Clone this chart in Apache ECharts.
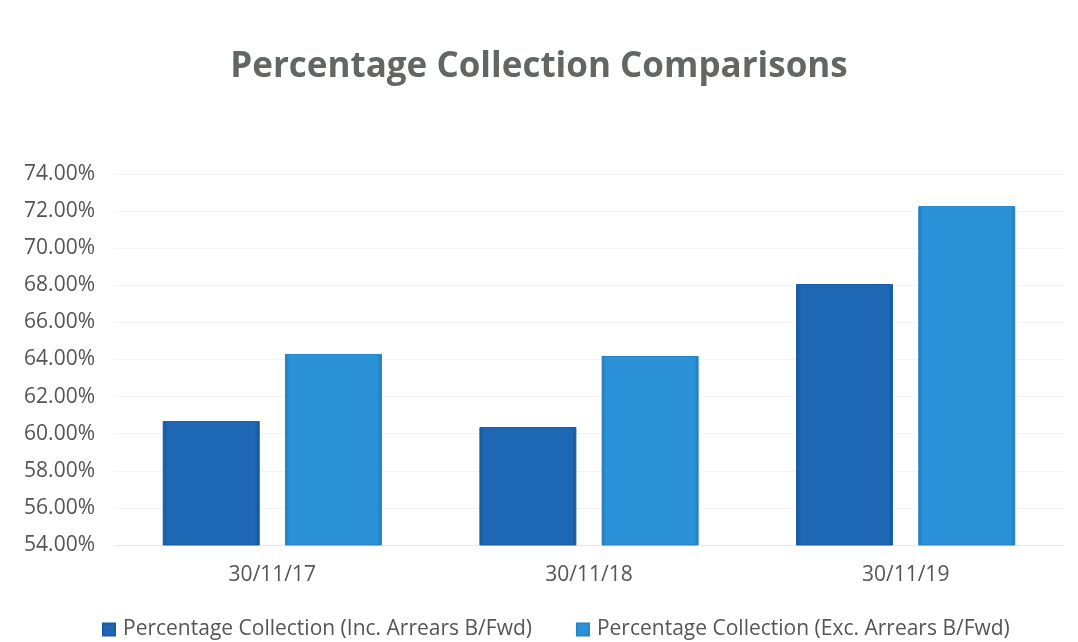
<!DOCTYPE html>
<html>
<head>
<meta charset="utf-8">
<script src="https://cdn.jsdelivr.net/npm/echarts@6/dist/echarts.min.js"></script>
<style>
  html, body { margin: 0; padding: 0; background: #fff; }
  #chart { width: 1078px; height: 642px; }
</style>
</head>
<body>
<div id="chart"></div>
<script>
// Collection dates and percentages
const categories = ['30/11/17', '30/11/18', '30/11/19'];
const incArrears = [60.68, 60.36, 68.07];
const excArrears = [64.30, 64.19, 72.27];
const seriesNames = [
  'Percentage Collection (Inc. Arrears B/Fwd)',
  'Percentage Collection (Exc. Arrears B/Fwd)'
];

const font = '"Open Sans", "Noto Sans", sans-serif';

function bevel(base, edge) {
  return {
    type: 'linear', x: 0, y: 0, x2: 1, y2: 0,
    colorStops: [
      { offset: 0, color: edge },
      { offset: 0.05, color: base },
      { offset: 0.95, color: base },
      { offset: 1, color: edge }
    ]
  };
}

const chart = echarts.init(document.getElementById('chart'));
chart.setOption({
  backgroundColor: '#ffffff',
  animation: false,
  title: {
    text: 'Percentage Collection Comparisons',
    left: 'center',
    top: 45,
    textStyle: { fontFamily: font, fontSize: 35, fontWeight: 'bold', color: '#626763' }
  },
  legend: {
    top: 614,
    left: 97,
    itemWidth: 12,
    itemHeight: 12,
    itemGap: 44,
    icon: 'rect',
    textStyle: { fontFamily: font, fontSize: 21, color: '#555555', padding: [0, 0, 0, 3] },
    data: seriesNames
  },
  grid: { left: 114, right: 14, top: 174, bottom: 97 },
  xAxis: {
    type: 'category',
    data: categories,
    axisTick: { show: false },
    axisLine: { lineStyle: { color: '#e8e8e8' } },
    axisLabel: { fontFamily: font, fontSize: 21, color: '#555555', margin: 20 }
  },
  yAxis: {
    type: 'value',
    min: 54,
    max: 74,
    interval: 2,
    axisLine: { show: false },
    axisTick: { show: false },
    splitLine: { lineStyle: { color: '#f3f3f3' } },
    axisLabel: {
      fontFamily: font, fontSize: 21, color: '#555555', margin: 19,
      formatter: v => v.toFixed(2) + '%'
    }
  },
  series: [
    {
      name: seriesNames[0],
      type: 'bar',
      data: incArrears,
      barWidth: 97,
      barGap: '26%',
      itemStyle: {
        color: bevel('#1e67b5', '#175496'),
        borderColor: '#1a5ca3',
        borderWidth: 1
      }
    },
    {
      name: seriesNames[1],
      type: 'bar',
      data: excArrears,
      barWidth: 97,
      itemStyle: {
        color: bevel('#2b92d8', '#2179b8'),
        borderColor: '#2584c7',
        borderWidth: 1
      }
    }
  ]
});
</script>
</body>
</html>
